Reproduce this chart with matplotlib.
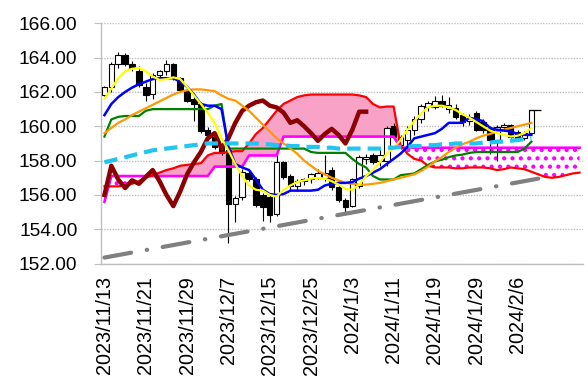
import matplotlib
matplotlib.use("Agg")
import matplotlib.pyplot as plt
import numpy as np

plt.rcParams['font.family'] = ['Liberation Sans', 'DejaVu Sans']
plt.rcParams['hatch.linewidth'] = 1.8

# tick labels (every 6th trading day)
tick_labels = ["2023/11/13", "2023/11/21", "2023/11/29", "2023/12/7", "2023/12/15",
               "2023/12/25", "2024/1/3", "2024/1/11", "2024/1/19", "2024/1/29", "2024/2/6"]
n_days = 70

# candles (open, high, low, close)
opens = [161.82, 162.31, 163.6, 164.18, 163.6, 163.2, 162.3, 161.9, 163.0, 163.2,
         163.6, 162.8, 162.1, 161.6, 161.3, 159.8, 159.4, 158.8, 158.6, 155.5,
         155.9, 157.3, 156.9, 156.0, 155.9, 154.9, 157.9, 157.1, 156.5, 156.8,
         156.9, 157.0, 156.97, 157.45, 156.45, 155.7, 155.35, 156.5, 158.1, 158.3,
         157.95, 157.95, 160.0, 158.9, 159.2, 159.8, 160.4, 161.1, 161.15, 161.45,
         161.0, 161.05, 160.65, 160.3, 160.76, 160.27, 159.88, 159.2, 159.98, 160.08,
         159.69, 159.3, 159.6]
highs = [162.35, 163.75, 164.3, 164.25, 163.8, 163.5, 162.5, 163.1, 163.3, 163.85,
         163.7, 162.9, 162.2, 161.8, 161.4, 159.95, 159.6, 159.0, 158.9, 155.95,
         157.5, 157.45, 157.05, 156.1, 156.0, 158.4, 158.0, 157.2, 156.9, 157.0,
         157.3, 157.5, 158.35, 157.6, 156.6, 155.8, 157.0, 158.3, 158.4, 158.45,
         158.7, 160.0, 160.2, 159.5, 160.0, 160.6, 161.3, 161.5, 161.75, 161.8,
         161.7, 161.3, 160.8, 160.7, 160.9, 160.4, 160.0, 160.05, 160.2, 160.15,
         159.8, 159.7, 160.95]
lows = [161.75, 162.0, 163.4, 163.5, 163.2, 162.3, 161.5, 161.6, 162.8, 163.0,
        162.7, 162.0, 161.4, 160.3, 159.6, 159.4, 158.7, 158.3, 153.2, 154.4,
        155.7, 156.8, 155.3, 154.5, 154.45, 154.8, 156.9, 156.3, 156.2, 156.6,
        156.7, 156.9, 156.8, 156.3, 155.6, 155.0, 155.3, 156.4, 157.8, 157.8,
        157.7, 157.7, 159.3, 158.7, 158.8, 159.5, 160.2, 160.9, 161.0, 161.1,
        160.8, 160.4, 160.0, 160.1, 159.7, 159.6, 158.4, 158.0, 159.8, 159.3,
        159.2, 159.2, 159.5]
closes = [162.31, 163.6, 164.18, 163.6, 163.4, 162.4, 161.85, 163.0, 163.2, 163.6,
          162.8, 162.1, 161.5, 161.3, 159.75, 159.5, 158.8, 158.45, 155.5, 155.85,
          157.35, 156.9, 155.4, 155.3, 154.85, 157.9, 157.05, 156.5, 156.8, 156.9,
          157.2, 157.3, 157.26, 156.45, 155.7, 155.3, 156.9, 158.2, 158.2, 157.9,
          158.3, 159.9, 159.4, 159.4, 159.8, 160.4, 161.2, 161.35, 161.45, 161.2,
          161.25, 160.55, 160.25, 160.5, 159.8, 159.8, 159.2, 159.98, 160.08, 159.4,
          159.3, 159.6, 160.95]

# moving averages / ichimoku lines
ma_short = [161.6, 162.2, 162.8, 163.2, 163.35, 163.4, 163.2, 162.9, 162.7, 162.75,
            162.85, 162.75, 162.3, 161.8, 161.3, 160.8, 160.2, 159.3, 158.6, 157.8,
            157.1, 156.55, 156.3, 156.25, 156.0, 155.9, 156.3, 156.55, 156.75, 156.85,
            156.95, 157.0, 156.95, 156.8, 156.6, 156.35, 156.3, 156.6, 157.1, 157.45,
            157.9, 158.4, 158.75, 159.2, 159.8, 160.3, 160.75, 161.1, 161.2, 161.2,
            161.1, 160.95, 160.7, 160.5, 160.25, 160.0, 159.75, 159.6, 159.5, 159.4,
            159.45, 159.6, 159.9]
tenkan = [160.65, 161.3, 161.7, 162.0, 162.25, 162.45, 162.6, 162.75, 162.8, 162.8,
          162.8, 162.6, 162.3, 161.85, 161.3, 161.2, 161.2, 161.0, 158.8, 157.8,
          157.6, 157.45, 156.9, 156.3, 156.05, 156.0, 156.05, 156.25, 156.25, 156.25,
          156.25, 156.3, 156.55, 156.65, 156.7, 156.7, 156.75, 156.95, 157.1, 157.3,
          157.5, 157.8, 158.1, 158.4, 158.8, 159.3, 159.4, 159.5, 159.6, 159.85,
          160.2, 160.2, 160.2, 160.5, 160.4, 160.3, 159.9, 159.8, 159.75, 159.7,
          159.55, 159.5, 159.5]
kijun = [159.4, 160.4, 160.55, 160.6, 160.6, 160.6, 160.9, 161.0, 161.0, 161.0,
         161.0, 161.0, 161.0, 161.0, 161.0, 161.0, 161.2, 161.3, 158.7, 158.7,
         158.7, 158.7, 158.7, 158.7, 158.7, 158.7, 158.7, 158.7, 158.7, 158.7,
         158.5, 158.45, 158.45, 158.45, 158.45, 158.45, 158.1, 157.8, 157.6, 157.1,
         156.9, 156.9, 156.9, 157.15, 157.2, 157.25, 157.5, 157.75, 157.95, 158.05,
         158.2, 158.3, 158.35, 158.45, 158.5, 158.5, 158.5, 158.5, 158.5, 158.5,
         158.5, 158.7, 159.1]
ma_mid = [159.6, 159.9, 160.2, 160.4, 160.65, 160.85, 161.05, 161.25, 161.45, 161.65,
          161.85, 162.0, 162.1, 162.15, 162.15, 162.1, 162.05, 161.8, 161.6, 161.5,
          161.2, 160.9, 160.5, 160.1, 159.7, 159.3, 159.0, 158.7, 158.4, 158.0,
          157.7, 157.4, 157.2, 157.0, 156.85, 156.7, 156.65, 156.6, 156.6, 156.65,
          156.7, 156.8, 156.9, 157.0, 157.1, 157.2, 157.4, 157.65, 157.95, 158.2,
          158.5, 158.75, 158.95, 159.1, 159.3, 159.45, 159.55, 159.7, 159.8, 159.9,
          160.0, 160.1, 160.2]
ma_long = [157.9, 158.0, 158.1, 158.2, 158.3, 158.4, 158.5, 158.6, 158.65, 158.7,
           158.75, 158.8, 158.85, 158.9, 158.95, 159.0, 159.0, 159.0, 159.0, 159.0,
           159.0, 159.0, 159.0, 158.95, 158.95, 158.9, 158.9, 158.85, 158.85, 158.8,
           158.8, 158.8, 158.75, 158.75, 158.7, 158.7, 158.7, 158.7, 158.7, 158.7,
           158.7, 158.75, 158.75, 158.8, 158.8, 158.85, 158.85, 158.9, 158.9, 158.95,
           158.95, 159.0, 159.0, 159.0, 159.0, 159.05, 159.05, 159.1, 159.1, 159.15,
           159.2, 159.25, 159.3]
span_a = [156.5, 156.5, 156.5, 156.55, 156.65, 156.8, 157.0, 157.15, 157.3, 157.45,
          157.55, 157.7, 157.75, 157.8, 157.85, 158.3, 158.45, 158.45, 158.5, 158.55,
          158.55, 159.0, 159.55, 159.9, 160.4, 160.9, 161.3, 161.5, 161.7, 161.8,
          161.85, 161.85, 161.85, 161.85, 161.85, 161.85, 161.85, 161.8, 161.7, 161.3,
          161.1, 161.15, 161.15, 158.9, 158.4, 158.1, 158.0, 157.7, 157.6, 157.6,
          157.6, 157.55, 157.55, 157.6, 157.6, 157.6, 157.55, 157.45, 157.5, 157.6,
          157.55, 157.5, 157.35, 157.2, 157.05, 157.0, 157.05, 157.15, 157.25, 157.3]
span_b = [155.6, 157.1, 157.1, 157.1, 157.1, 157.1, 157.1, 157.1, 157.1, 157.1,
          157.1, 157.1, 157.1, 157.1, 157.1, 157.1, 157.65, 157.65, 157.65, 157.65,
          157.65, 158.3, 158.3, 158.3, 158.3, 158.3, 159.4, 159.4, 159.4, 159.4,
          159.4, 159.4, 159.4, 159.4, 159.4, 159.4, 159.4, 159.4, 159.4, 159.4,
          159.4, 159.4, 159.4, 158.75, 158.75, 158.75, 158.75, 158.75, 158.75, 158.75,
          158.75, 158.75, 158.75, 158.75, 158.75, 158.75, 158.75, 158.75, 158.75, 158.75,
          158.75, 158.75, 158.75, 158.75, 158.75, 158.75, 158.75, 158.75, 158.75, 158.75]
chikou = [156.0, 157.7, 156.9, 156.4, 156.85, 156.65, 157.05, 157.45, 156.8, 156.0,
          155.35, 156.2, 157.2, 157.9, 158.5, 159.3, 159.6, 158.7, 159.3, 160.2,
          160.9, 161.2, 161.4, 161.5, 161.2, 161.1, 160.8, 160.2, 160.35, 160.0,
          159.6, 159.15, 159.55, 159.85, 159.5, 159.0, 159.8, 160.85, 160.85]

# support trend line (start, end)
trend_idx = [0, 63]
trend_val = [152.35, 156.95]

fig = plt.figure(figsize=(5.88, 3.82), dpi=100)
ax = fig.add_axes([0.1718, 0.310, 0.8197, 0.629])

x_all = np.arange(n_days)
xa = x_all[:len(span_a)]
a = np.array(span_a)
b = np.array(span_b)

# cloud
ax.fill_between(xa, a, b, where=a >= b, interpolate=True, facecolor='#F8A2C8',
                edgecolor='none', linewidth=0, zorder=1)
ax.fill_between(xa, a, b, where=b >= a, interpolate=True, facecolor='white',
                edgecolor='#FF00FF', hatch='..', linewidth=0, zorder=1)

# candles
xc = x_all[:len(opens)]
o = np.array(opens)
c = np.array(closes)
ax.vlines(xc, lows, highs, color='black', linewidth=0.8, zorder=2)
up = c >= o
ax.bar(xc[up], np.maximum(c - o, 0.04)[up], bottom=o[up], width=0.8,
       facecolor='white', edgecolor='black', linewidth=0.8, zorder=3)
ax.bar(xc[~up], (o - c)[~up], bottom=c[~up], width=0.8,
       facecolor='black', edgecolor='black', linewidth=0.8, zorder=3)
ax.hlines(closes[-1], xc[-1] - 0.4, xc[-1] + 1.4, color='black', linewidth=0.9, zorder=3)

# lines
ax.plot(xa, span_b, color='#FF00FF', linewidth=1.9, zorder=4)
ax.plot(xa, span_a, color='#FF0000', linewidth=1.6, zorder=4)
ax.plot(x_all[:len(chikou)], chikou, color='#8B0000', linewidth=3.2, zorder=5)
ax.plot(xc, kijun, color='#008000', linewidth=1.6, zorder=5)
ax.plot(xc, ma_mid, color='#FF9900', linewidth=1.6, zorder=5)
ax.plot(xc, tenkan, color='#0000FF', linewidth=1.8, zorder=5)
ax.plot(xc, ma_short, color='#FFFF00', linewidth=1.6, zorder=6)
ax.plot(xc, ma_long, color='#22C4F0', linewidth=3.0, dashes=(3.2, 1.7), zorder=6)
ax.plot(trend_idx, trend_val, color='#808080', linewidth=3.0,
        dashes=(6.5, 3.8, 0.1, 3.8), dash_capstyle='round', zorder=6)

ax.set_xlim(-0.5, n_days - 0.5)
ax.set_ylim(152, 166)
ax.set_yticks(np.arange(152, 167, 2))
ax.set_yticklabels(["%.2f" % v for v in np.arange(152, 167, 2)], fontsize=13.8)
ax.set_xticks(np.arange(0, 6 * len(tick_labels), 6))
ax.set_xticklabels(tick_labels, rotation=90, fontsize=14.3, va='top', ha='center')
ax.tick_params(axis='x', length=0, pad=9)
ax.tick_params(axis='y', length=5, color='#BFBFBF', pad=12)
ax.grid(axis='y', color='#BFBFBF', linestyle=(0, (1, 1)), linewidth=1.0, zorder=0)
ax.set_axisbelow(True)
for s in ['top', 'right']:
    ax.spines[s].set_visible(False)
ax.spines['left'].set_color('#BFBFBF')
ax.spines['bottom'].set_color('#BFBFBF')
ax.spines['left'].set_linewidth(1.0)
ax.spines['bottom'].set_linewidth(1.0)

fig.savefig("out.png", dpi=100)
